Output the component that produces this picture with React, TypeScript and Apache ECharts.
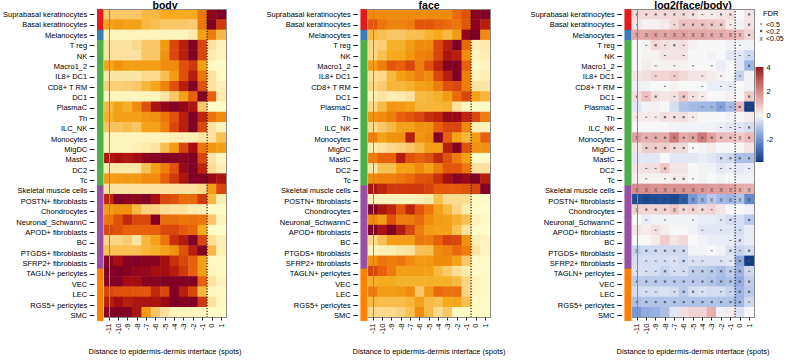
import React, { useEffect, useRef } from "react";
import * as echarts from "echarts";

const cellTypes = [
  "Suprabasal keratinocytes", "Basal keratinocytes", "Melanocytes", "T reg", "NK", "Macro1_2",
  "IL8+ DC1", "CD8+ T RM", "DC1", "PlasmaC", "Th", "ILC_NK", "Monocytes", "MigDC", "MastC",
  "DC2", "Tc", "Skeletal muscle cells", "POSTN+ fibroblasts", "Chondrocytes", "Neuronal_SchwannC",
  "APOD+ fibroblasts", "BC", "PTGDS+ fibroblasts", "SFRP2+ fibroblasts", "TAGLN+ pericytes",
  "VEC", "LEC", "RGS5+ pericytes", "SMC",
];
const cellGroup = [0, 0, 1, 2, 2, 2, 2, 2, 2, 2, 2, 2, 2, 2, 2, 2, 2, 3, 3, 3, 3, 3, 3, 3, 3, 4, 4, 4, 4, 4];
const groupColors = ["#E41A1C", "#377EB8", "#4DAF4A", "#984EA3", "#FF7F00"];
const distances = ["-11", "-10", "-9", "-8", "-7", "-6", "-5", "-4", "-3", "-2", "-1", "0", "1"];
const panelTitles = ["body", "face", "log2(face/body)"];
const axisTitle = "Distance to epidermis-dermis interface (spots)";
const colorbarTicks = [4, 2, 0, -2];
const fdrLegend = ["<0.5", "<0.2", "<0.05"];

// scaled abundance (0 = low, 9 = high)
const bodyLevels = [
  [3, 3, 3, 3, 3.5, 3.5, 4, 4, 4, 4, 5.5, 8.5, 9],
  [4.3, 4.5, 4.3, 4.3, 3.5, 3.3, 3, 3, 3, 2.8, 5.5, 9, 6.8],
  [1, 1, 1, 1, 1, 1, 1, 1, 1, 1.5, 4.3, 5.3, 3.5],
  [2, 2, 2, 2.3, 3, 3, 4.5, 6.5, 7.5, 9, 6.5, 2, 1],
  [2, 2, 2, 2, 3, 3, 4.8, 6.5, 7.5, 9, 6.5, 1.5, 1],
  [4.2, 4.8, 4.4, 4.4, 4.4, 4.4, 5, 5, 6.3, 6.8, 4.4, 0.5, 0.3],
  [1.8, 1.8, 1.8, 1.8, 2.3, 2.3, 3.3, 4.5, 6.3, 7.5, 5.5, 2, 0.5],
  [2.7, 2.7, 2.8, 3, 3.6, 4.2, 5.2, 6.3, 7.5, 9, 6.3, 2, 1.2],
  [0.8, 0.8, 0.8, 0.8, 1, 1, 1.8, 3, 4.3, 6, 9, 6, 1.5],
  [3.5, 4.3, 3.8, 5, 6.3, 7.8, 8.5, 9, 8.5, 7.8, 3, 0.3, 0.3],
  [3.8, 4.3, 4.3, 4.3, 4.7, 4.8, 5.5, 6.3, 7.5, 9, 7.3, 5.5, 5],
  [3.1, 3.1, 3.4, 3.1, 4.3, 4.3, 5.2, 6.5, 7.5, 9, 6.5, 2, 1],
  [1, 1, 1, 1, 1, 1, 1, 1.2, 1.2, 1.3, 1.8, 2, 3.3],
  [1, 1, 1, 1.2, 1.5, 1.8, 3.3, 4.5, 6.5, 8, 5.5, 4.7, 4.3],
  [7.7, 7.9, 7.7, 8, 8.7, 8.9, 9, 8.9, 8.6, 9, 6.5, 1.8, 0.8],
  [1.6, 1.6, 1.6, 1.7, 3.3, 4.3, 5.3, 6.3, 8.3, 9, 7.3, 2.2, 1.3],
  [4.5, 4.5, 4.6, 4.6, 5, 5, 6, 6.8, 7.8, 9, 8.9, 8.3, 7.8],
  [2, 2, 2, 2, 2, 2, 2, 2, 2, 2, 2.3, 4.5, 6.5],
  [7.3, 9, 8.7, 8.6, 9, 8, 6.5, 6.3, 5.8, 5.8, 6.8, 3.5, 1.3],
  [4.5, 4.8, 4.8, 3.5, 2.6, 2.6, 2.2, 2, 2, 1.5, 1.3, 0.3, 0.3],
  [5.5, 6.3, 7.2, 6.5, 6.5, 9, 5.7, 5.7, 5.5, 5.6, 5.5, 3, 1],
  [6.5, 6.3, 6, 6, 6, 6, 6.5, 6.5, 6.1, 5.9, 4, 0.5, 0.2],
  [2.5, 2.5, 2.8, 2, 3.6, 4.3, 5.5, 7, 7.6, 9, 6.5, 2.2, 1.2],
  [3.3, 3.3, 3.3, 3.3, 3.6, 3.8, 4.3, 4.8, 6.3, 7.5, 9, 3.5, 1.3],
  [8.7, 8, 8.8, 9, 8.8, 8.8, 8, 7, 6.5, 6, 4.3, 0.7, 0.5],
  [9, 9, 8.8, 8.5, 8.5, 8, 8, 7.5, 6.8, 6, 4.4, 1, 0.5],
  [9, 9, 8, 8.1, 8.8, 8.8, 9, 9, 9, 9, 6, 2, 1],
  [6.5, 6.3, 6.3, 6.2, 6.2, 7.2, 6.5, 9, 7.5, 6.5, 3.5, 0.8, 0.5],
  [7.5, 8, 7.5, 7.8, 7.8, 7.8, 8.3, 9, 8.8, 9, 6.8, 2, 0.7],
  [9, 9, 9, 7.8, 4.5, 3, 2, 1, 1, 1, 0.8, 0.3, 0.3],
];

const faceLevels = [
  [5, 5, 5, 5, 5, 5, 5, 5, 5, 5.8, 6.3, 8.7, 9],
  [6.2, 5.5, 5.2, 5.2, 5.3, 6.2, 6.2, 6, 5.8, 5.5, 6.2, 8.7, 7.5],
  [3.5, 3.3, 3, 3, 3.3, 3.3, 3.7, 4, 3.5, 4.5, 8.5, 9, 5],
  [2.5, 2.7, 3.8, 3.8, 4.5, 5, 5, 6.5, 7.5, 9, 5.8, 1.2, 1.5],
  [2.5, 3.3, 4, 4, 4.7, 5.2, 5.3, 6.5, 7.8, 7.5, 5, 1, 1.3],
  [4.5, 5.3, 6.2, 6, 6.5, 5.3, 6.3, 7.3, 9, 9, 6, 0.5, 0.8],
  [2.2, 2.3, 3.5, 4.3, 4.8, 5.3, 5, 6.5, 7.5, 9, 5.3, 1, 1.3],
  [2.5, 2.8, 3.6, 3.6, 3.8, 4.3, 4.5, 5.3, 6.3, 6.5, 5.3, 2, 1.8],
  [1.3, 1.8, 1.3, 1.5, 2, 3.5, 3.6, 3.8, 4.5, 5.8, 6.5, 4.3, 3.6],
  [2.5, 3.5, 4.7, 4.6, 4.3, 3.6, 3.6, 3.6, 3.7, 2, 0.8, 0.3, 0.5],
  [4.8, 5, 5.3, 6, 6.2, 6.5, 7, 7.3, 8.3, 8.3, 7.3, 6.5, 5.3],
  [2.3, 3, 3.5, 4.3, 4.3, 4.8, 4.8, 6, 6.5, 6.5, 5, 1.2, 1],
  [5.3, 4.3, 4.8, 4.8, 7.5, 4.7, 5, 9, 6, 4.3, 3.6, 4.5, 6],
  [1.5, 2, 2.4, 2.6, 3, 3.5, 4.3, 4.3, 7.5, 9, 6.3, 4.8, 4.8],
  [5.3, 6, 6, 7.6, 6.3, 6, 6.3, 7.2, 6.3, 5.3, 4.3, 0.5, 0.5],
  [1.8, 3.2, 3.3, 4.3, 4.3, 5, 4.3, 5.3, 6.2, 6.2, 5.5, 2, 2],
  [5, 5.2, 5.2, 5.5, 5.8, 6.2, 6.3, 7, 8, 8.8, 8.3, 9, 7.5],
  [7.8, 7.3, 6.8, 6.8, 6.8, 6.8, 6.6, 6.1, 6.1, 6.1, 6.2, 6.5, 9],
  [1, 1, 1, 1, 1, 1.2, 1.6, 3.3, 2.3, 2.3, 2.2, 0.5, 0.3],
  [9, 7.8, 7.3, 6.2, 7.3, 6.2, 5.5, 4.3, 3.5, 2.5, 1.5, 0.3, 0.2],
  [5, 4.5, 6.3, 5.3, 5.3, 5.8, 5, 4.5, 4.3, 3.8, 3.3, 1, 0.5],
  [9, 7.8, 9, 7.6, 6.5, 5.3, 4.5, 4.3, 4.3, 3.3, 2, 0.3, 0.2],
  [2.3, 3.3, 4.3, 4.4, 4.4, 5.5, 5.3, 6, 6.6, 6.5, 4.8, 1.2, 0.8],
  [1, 1.2, 1.3, 1.8, 2, 3.2, 3.3, 5, 5.2, 5.8, 5.3, 2, 0.8],
  [4.8, 5.5, 5.3, 5.5, 5, 4.6, 4.6, 5, 5, 4.3, 3, 0.5, 0.3],
  [6.5, 6, 5.3, 4.4, 4.4, 4.4, 4.3, 3.5, 2.9, 2.2, 1.5, 0.5, 0.3],
  [3.8, 4, 4, 3.8, 3.8, 3.8, 3.8, 3.8, 3.8, 3.5, 2.5, 1, 0.5],
  [5.3, 4.5, 4.5, 4.6, 5, 3, 4.6, 5.8, 5.6, 5.6, 2.5, 0.8, 0.5],
  [3.5, 3.4, 3.4, 3.4, 3.6, 4.3, 3.5, 3.3, 4, 4.2, 3.3, 0.5, 0.3],
  [2.3, 2.3, 2.3, 2.6, 3.3, 5, 3.5, 2.3, 3, 0.5, 0.5, 0.3, 0.3],
];

const log2Ratio = [
  [0.5, 0.5, 0.5, 0.5, 0.5, 0.5, 0.4, 0.2, 0.2, 0.3, 0.4, 0.0, 0.3],
  [0.3, 0.1, 0.1, 0.2, 0.5, 0.9, 0.9, 0.9, 0.8, 0.7, 0.2, -0.1, 0.3],
  [1.4, 1.4, 1.5, 1.4, 1.5, 1.5, 1.4, 1.4, 1.3, 1.3, 1.2, 1.0, 0.6],
  [0.0, 0.1, 0.5, 0.4, 0.3, 0.4, 0.1, 0.0, 0.0, 0.0, -0.1, -0.1, -0.1],
  [0.0, 0.1, 0.1, 0.3, 0.3, 0.3, 0.0, 0.0, -0.1, 0.0, -0.3, -0.3, -0.6],
  [0.0, 0.2, 0.1, 0.1, 0.1, 0.1, 0.0, 0.0, 0.0, -0.2, 0.0, -0.3, -1.3],
  [0.3, 0.4, 0.6, 0.6, 0.7, 0.5, 0.3, 0.3, 0.2, 0.1, 0.0, -0.7, 0.1],
  [-0.1, -0.1, 0.0, 0.0, 0.1, 0.0, 0.0, 0.0, -0.2, -0.2, -0.2, 0.0, -0.1],
  [0.4, 0.9, 0.4, 0.3, 0.4, 0.8, 0.4, 0.2, 0.0, 0.0, 0.1, 0.0, 0.7],
  [-0.3, -0.1, 0.1, 0.0, -0.5, -1.0, -1.2, -1.3, -1.3, -1.7, -1.2, 1.0, -3.8],
  [0.2, 0.2, 0.2, 0.4, 0.3, 0.4, 0.2, 0.0, 0.0, 0.0, -0.1, 0.0, 0.2],
  [0.0, 0.0, 0.0, 0.0, -0.1, -0.1, -0.1, -0.1, -0.1, -0.2, -0.3, -0.3, -0.5],
  [1.5, 1.2, 1.3, 1.3, 2.3, 1.3, 1.5, 2.3, 1.5, 1.0, 0.9, 0.7, 1.0],
  [0.3, 0.7, 0.7, 0.7, 0.5, 0.5, 0.0, -0.1, 0.2, 0.0, 0.0, 0.0, 0.3],
  [-0.3, -0.3, -0.3, 0.0, -0.3, -0.3, -0.3, -0.2, -0.3, -0.5, -0.6, -1.1, -1.1],
  [0.3, 0.4, 0.4, 0.8, 0.3, 0.3, 0.0, -0.1, -0.1, -0.3, -0.2, -0.3, -0.2],
  [0.1, 0.1, 0.1, 0.1, 0.2, 0.2, 0.0, -0.1, 0.0, -0.1, 0.0, -0.1, -0.1],
  [1.9, 1.9, 1.8, 1.8, 1.8, 1.8, 1.8, 1.7, 1.6, 1.6, 1.5, 1.3, 1.2],
  [-3.5, -3.6, -3.5, -3.5, -3.6, -3.2, -1.9, -1.4, -0.9, -1.2, -1.3, -1.0, -2.2],
  [0.6, 0.6, 0.6, 0.6, 0.8, 0.5, 0.6, 0.5, 0.6, 0.3, 0.0, 0.0, -0.1],
  [0.0, -0.2, -0.1, -0.1, -0.1, -0.1, -0.1, -0.2, -0.2, -0.3, -0.5, -0.5, -0.9],
  [0.3, 0.2, 0.4, 0.2, 0.0, 0.0, -0.1, -0.3, -0.3, -0.3, -0.3, -0.5, -0.2],
  [0.0, 0.0, 0.2, 0.7, 0.3, 0.5, 0.0, -0.1, -0.2, -0.2, -0.2, -0.4, -0.2],
  [-0.7, -0.6, -0.6, -0.6, -0.6, -0.6, -0.1, -0.1, 0.0, -0.1, -0.4, -0.7, -0.5],
  [-0.5, -0.5, -0.5, -0.5, -0.4, -0.6, -0.4, -0.4, -0.4, -0.4, -0.3, -1.5, -3.9],
  [-0.4, -0.5, -0.5, -0.7, -0.5, -0.5, -0.8, -0.8, -0.9, -1.1, -0.8, -1.3, -0.6],
  [-0.9, -0.9, -0.9, -0.9, -0.9, -0.9, -0.9, -0.9, -1.0, -1.2, -1.0, -1.5, -0.8],
  [-0.5, -0.5, -0.5, -0.4, -0.5, -0.9, -0.5, -0.4, -0.5, -0.5, -0.7, -1.3, -0.9],
  [-1.1, -1.0, -1.0, -1.0, -1.0, -1.0, -1.0, -1.0, -1.0, -1.0, -1.0, -1.3, -0.6],
  [-1.9, -1.5, -1.4, -1.1, -0.3, 0.4, 0.6, 0.6, 1.2, -0.1, 0.2, -0.4, 0.0],
];

// 0 = n.s., 1 = FDR<0.5, 2 = FDR<0.2, 3 = FDR<0.05
const fdrMarks = [
  [2, 2, 2, 2, 2, 2, 2, 1, 1, 2, 2, 0, 2],
  [1, 0, 0, 0, 1, 2, 2, 2, 2, 2, 1, 0, 2],
  [3, 3, 3, 3, 3, 3, 3, 3, 3, 3, 3, 3, 2],
  [0, 1, 2, 1, 2, 1, 0, 0, 0, 0, 0, 1, 0],
  [0, 0, 0, 1, 0, 1, 0, 0, 0, 0, 0, 1, 1],
  [0, 0, 1, 0, 1, 0, 1, 0, 1, 0, 0, 0, 2],
  [0, 0, 1, 0, 1, 0, 0, 1, 0, 1, 0, 1, 0],
  [0, 0, 0, 1, 0, 0, 0, 1, 0, 1, 1, 0, 0],
  [2, 1, 2, 0, 1, 2, 1, 1, 0, 0, 0, 0, 2],
  [0, 0, 0, 0, 0, 0, 0, 1, 1, 1, 1, 2, 2],
  [1, 1, 1, 2, 2, 2, 1, 0, 0, 0, 0, 0, 0],
  [0, 0, 0, 0, 0, 0, 0, 0, 0, 1, 1, 1, 2],
  [3, 2, 2, 2, 2, 2, 2, 2, 2, 2, 2, 3, 2],
  [0, 2, 2, 2, 2, 2, 1, 0, 0, 0, 0, 0, 0],
  [0, 0, 0, 0, 0, 0, 0, 0, 0, 2, 2, 2, 2],
  [0, 1, 1, 2, 0, 0, 0, 0, 0, 1, 1, 0, 1],
  [0, 1, 0, 1, 2, 2, 1, 0, 0, 0, 0, 0, 0],
  [3, 3, 3, 3, 3, 3, 3, 3, 3, 3, 3, 3, 3],
  [3, 3, 3, 3, 3, 3, 3, 3, 3, 3, 3, 3, 3],
  [3, 2, 2, 2, 3, 2, 2, 2, 1, 0, 0, 0, 0],
  [0, 1, 0, 1, 0, 0, 1, 0, 0, 1, 2, 0, 2],
  [0, 0, 1, 0, 0, 0, 0, 1, 0, 1, 0, 1, 0],
  [0, 0, 0, 0, 0, 0, 0, 0, 0, 0, 1, 2, 0],
  [3, 2, 2, 2, 2, 2, 0, 0, 1, 0, 2, 1, 2],
  [0, 1, 1, 1, 1, 2, 1, 1, 0, 1, 1, 2, 2],
  [1, 1, 1, 2, 1, 1, 2, 2, 2, 2, 2, 2, 1],
  [2, 2, 2, 2, 2, 2, 2, 2, 2, 2, 2, 2, 2],
  [0, 1, 1, 0, 1, 2, 2, 1, 0, 1, 1, 2, 2],
  [2, 2, 2, 2, 2, 2, 2, 2, 2, 2, 2, 2, 1],
  [0, 0, 0, 0, 0, 0, 0, 0, 0, 0, 0, 0, 0],
];

const heatRamp = ["#FFFFCC", "#FEF3BB", "#FCE29E", "#F9C767", "#F5AB1C", "#F08B0D", "#E8600B", "#C8300C", "#A40E10", "#800026"];
const divRampStops = [-4, -3, -2, -1, 0, 1, 2, 3, 4];
const divRamp = ["#0A3780", "#3A64AE", "#7293D3", "#B2C3EA", "#F7F7F7", "#EBBABA", "#D68888", "#B85555", "#8E1C22"];
const LOG2_MIN = -3.87;
const LOG2_MAX = 4;

const FONT = "'Liberation Sans', Arial, Helvetica, sans-serif";

function hexToRgb(h: string) {
  const n = parseInt(h.slice(1), 16);
  return [(n >> 16) & 255, (n >> 8) & 255, n & 255];
}
function divColor(v: number) {
  const x = Math.max(-4, Math.min(4, v));
  let i = 0;
  while (i < divRampStops.length - 2 && x > divRampStops[i + 1]) i++;
  const t = (x - divRampStops[i]) / (divRampStops[i + 1] - divRampStops[i]);
  const a = hexToRgb(divRamp[i]);
  const b = hexToRgb(divRamp[i + 1]);
  const c = a.map((av, k) => Math.round(av + (b[k] - av) * t));
  return `rgb(${c[0]},${c[1]},${c[2]})`;
}

const PANEL_SHIFT = [0, 264, 528];
const TOP = 9.3;
const HEIGHT = 311.4;
const ANNOT_LEFT = 96.7;
const ANNOT_W = 6.6;
const HEAT_LEFT = 104.3;
const HEAT_W = 121.5;

export default function App() {
  const ref = useRef<HTMLDivElement>(null);
  useEffect(() => {
    if (!ref.current) return;
    const chart = echarts.init(ref.current, null, { renderer: "svg" });

    const grids: any[] = [];
    const xAxes: any[] = [];
    const yAxes: any[] = [];
    const series: any[] = [];
    const annotSeriesIdx: number[] = [];
    const levelSeriesIdx: number[] = [];
    let log2SeriesIdx = -1;
    const frameLine = { show: true, lineStyle: { color: "#8a8a8a", width: 1 } };
    const graphics: any[] = [];

    const matrices = [bodyLevels, faceLevels, log2Ratio];

    PANEL_SHIFT.forEach((shift, p) => {
      grids.push({ left: ANNOT_LEFT + shift, top: TOP, width: ANNOT_W, height: HEIGHT });
      grids.push({ left: HEAT_LEFT + shift, top: TOP, width: HEAT_W, height: HEIGHT });
      const gA = 2 * p;
      const gH = 2 * p + 1;
      graphics.push({
        type: "text", x: HEAT_LEFT + shift + HEAT_W / 2, y: 4.6, silent: true,
        style: { text: panelTitles[p], fontSize: 10.5, fontWeight: "bold", fill: "#000", fontFamily: FONT, align: "center", verticalAlign: "middle" },
      });
      // annotation axes
      xAxes.push({ type: "category", gridIndex: gA, data: ["group"], show: false });
      yAxes.push({
        type: "category", gridIndex: gA, data: cellTypes, inverse: true, offset: 2.7,
        axisLine: { show: false },
        axisTick: { show: true, length: 4.7, alignWithLabel: true, interval: 0, lineStyle: { color: "#222", width: 1 } },
        axisLabel: { fontSize: 7.5, color: "#000", margin: 7.3, fontFamily: FONT, interval: 0 },
      });
      // heatmap axes
      xAxes.push({
        type: "category", gridIndex: gH, data: distances, position: "bottom", z: 10,
        axisLine: frameLine,
        axisTick: { show: true, length: 3, alignWithLabel: true, interval: 0, lineStyle: { color: "#222", width: 1 } },
        axisLabel: { rotate: 90, fontSize: 7.5, color: "#000", margin: 6, fontFamily: FONT, interval: 0 },
        name: axisTitle, nameLocation: "middle", nameGap: 29.5,
        nameTextStyle: { fontSize: 7.5, color: "#000", fontFamily: FONT },
      });
      yAxes.push({
        type: "category", gridIndex: gH, data: cellTypes, inverse: true, z: 10,
        axisLine: frameLine, axisTick: { show: false }, axisLabel: { show: false },
      });
      // overlay axes (frame top/right, dotted divider)
      xAxes.push({
        type: "value", gridIndex: gH, position: "top", min: -0.5, max: 12.5, z: 10,
        axisLine: frameLine, axisTick: { show: false }, axisLabel: { show: false }, splitLine: { show: false },
      });
      yAxes.push({
        type: "value", gridIndex: gH, position: "right", min: 0, max: 1, z: 10,
        axisLine: frameLine, axisTick: { show: false }, axisLabel: { show: false }, splitLine: { show: false },
      });
      const ax = 3 * p;

      annotSeriesIdx.push(series.length);
      series.push({
        type: "heatmap", xAxisIndex: ax, yAxisIndex: ax,
        data: cellGroup.map((g, r) => [0, r, g]),
        emphasis: { disabled: true }, progressive: 0,
      });

      const m = matrices[p];
      const data: number[][] = [];
      m.forEach((row, r) => row.forEach((v, c) => data.push([c, r, v])));
      if (p < 2) levelSeriesIdx.push(series.length);
      else log2SeriesIdx = series.length;
      series.push({
        type: "heatmap", xAxisIndex: ax + 1, yAxisIndex: ax + 1, data,
        emphasis: { disabled: true }, progressive: 0,
      });

      // boundary between spot -1 and spot 0
      series.push({
        type: "line", xAxisIndex: ax + 2, yAxisIndex: ax + 2, z: 5,
        data: [[10.5, 0], [10.5, 1]], symbol: "none", silent: true,
        lineStyle: { color: "#111", width: 1.1, type: [1.2, 1.6] },
      });

      if (p === 2) {
        const markData: any[] = [];
        fdrMarks.forEach((row, r) =>
          row.forEach((mk, c) => {
            if (mk === 1) markData.push({ value: [c, r], symbol: "rect", symbolSize: [2, 1] });
            else if (mk === 2) markData.push({ value: [c, r], symbol: "rect", symbolSize: [2.2, 2.2] });
            else if (mk === 3)
              markData.push({
                value: [c, r], symbolSize: 0,
                label: { show: true, formatter: "x", fontSize: 6.5, color: "#333", fontFamily: FONT, position: "inside" },
              });
          })
        );
        series.push({
          type: "scatter", xAxisIndex: ax + 1, yAxisIndex: ax + 1, z: 6, silent: true,
          data: markData, itemStyle: { color: "#505050" },
        });
      }
    });

    // colorbar
    const cbX = 755.5, cbY = 67, cbW = 8, cbH = 95;
    const stops: any[] = [];
    for (let i = 0; i <= 40; i++) {
      const t = i / 40;
      const v = LOG2_MAX - t * (LOG2_MAX - LOG2_MIN);
      stops.push({ offset: t, color: divColor(v) });
    }
    const vToY = (v: number) => cbY + ((LOG2_MAX - v) / (LOG2_MAX - LOG2_MIN)) * cbH;
    graphics.push({
      type: "rect", shape: { x: cbX, y: cbY, width: cbW, height: cbH },
      style: { fill: new echarts.graphic.LinearGradient(0, 0, 0, 1, stops) }, silent: true,
    });
    colorbarTicks.forEach((t) =>
      graphics.push({
        type: "text", x: cbX + cbW + 3, y: vToY(t),
        style: { text: String(t), fontSize: 7.5, fill: "#000", fontFamily: FONT, verticalAlign: "middle", align: "left" },
      })
    );
    graphics.push({
      type: "text", x: 763, y: 13,
      style: { text: "FDR", fontSize: 7.5, fill: "#000", fontFamily: FONT, verticalAlign: "middle", align: "left" },
    });
    const legY = [24, 31, 38];
    fdrLegend.forEach((lab, i) => {
      if (i === 0) graphics.push({ type: "rect", shape: { x: 760, y: legY[i] - 0.5, width: 2, height: 1 }, style: { fill: "#505050" } });
      else if (i === 1) graphics.push({ type: "rect", shape: { x: 760, y: legY[i] - 1.1, width: 2.2, height: 2.2 }, style: { fill: "#505050" } });
      else graphics.push({ type: "text", x: 761, y: legY[i], style: { text: "x", fontSize: 6.5, fill: "#333", fontFamily: FONT, align: "center", verticalAlign: "middle" } });
      graphics.push({
        type: "text", x: 766, y: legY[i],
        style: { text: lab, fontSize: 7, fill: "#000", fontFamily: FONT, verticalAlign: "middle", align: "left" },
      });
    });

    const divColors: string[] = [];
    for (let i = 0; i <= 32; i++) divColors.push(divColor(-4 + (8 * i) / 32));

    chart.setOption({
      animation: false,
      textStyle: { fontFamily: FONT },
      grid: grids,
      xAxis: xAxes,
      yAxis: yAxes,
      visualMap: [
        {
          type: "piecewise", show: false, seriesIndex: annotSeriesIdx, dimension: 2,
          pieces: groupColors.map((c, i) => ({ value: i, color: c })),
        },
        { type: "continuous", show: false, seriesIndex: levelSeriesIdx, dimension: 2, min: 0, max: 9, inRange: { color: heatRamp } },
        { type: "continuous", show: false, seriesIndex: [log2SeriesIdx], dimension: 2, min: -4, max: 4, inRange: { color: divColors } },
      ],
      series,
      graphic: graphics,
    });
    return () => chart.dispose();
  }, []);
  return <div ref={ref} style={{ position: "absolute", left: 0, top: 0, width: 792, height: 360, background: "#fff" }} />;
}
